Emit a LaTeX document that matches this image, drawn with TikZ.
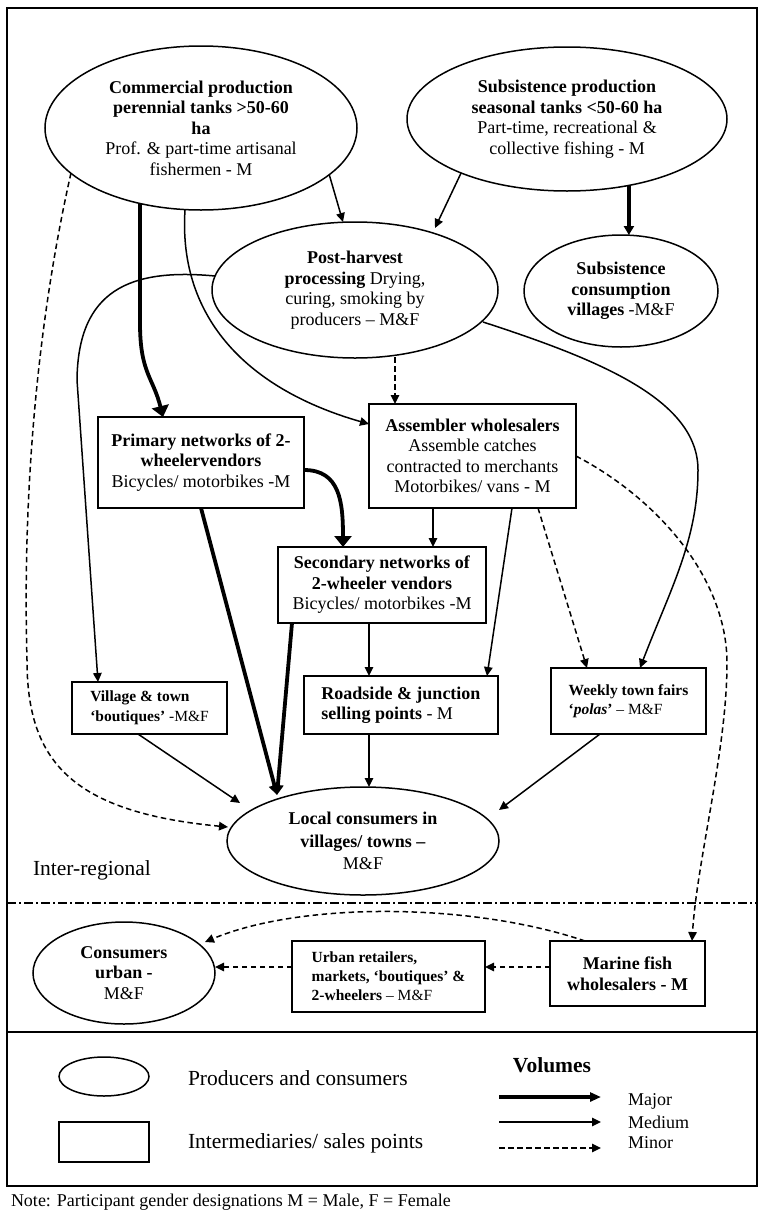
\documentclass[tikz,border=0pt]{standalone}
\usepackage{fontspec}
\setmainfont{Liberation Serif}
\usetikzlibrary{shapes.geometric,arrows.meta,calc}
\newcommand\fntA{\fontsize{18}{20.5}\selectfont}
\newcommand\fntB{\fontsize{15.5}{19.5}\selectfont}
\newcommand\fntL{\fontsize{21.5}{24}\selectfont}
\begin{document}
\begin{tikzpicture}[x=1pt,y=-1pt,
  every node/.style={inner sep=0pt, outer sep=0pt},
  ell/.style={ellipse, draw, line width=1.5pt, align=center, font=\fntA},
  box/.style={rectangle, draw, line width=1.5pt, align=center, font=\fntA},
  smallbox/.style={rectangle, draw, line width=1.5pt, align=left, font=\fntB},
  medium/.style={line width=1.5pt, -{Triangle[length=9pt,width=8.5pt]}},
  minor/.style={line width=1.5pt, dash pattern=on 5.5pt off 3.5pt, -{Triangle[length=9pt,width=8.5pt]}},
  major/.style={line width=3.8pt, -{Triangle[length=10pt,width=11pt]}},
  majorbig/.style={line width=3.8pt, -{Triangle[length=11pt,width=17pt]}},
]
\useasboundingbox (0,0) rectangle (765,1213);
\fill[white] (0,0) rectangle (765,1213);
% frame
\draw[line width=1.8pt] (7,8) rectangle (757,1186);
\draw[line width=1.5pt, dash pattern=on 9pt off 3pt on 2pt off 3pt] (7,903) -- (757,903);
\draw[line width=1.8pt] (7,1032) -- (757,1032);

% nodes
\node[ell, minimum width=312pt, minimum height=164pt] (comm) at (201,128)
 {\textbf{Commercial production}\\\textbf{perennial tanks >50-60}\\\textbf{ha}\\Prof. \& part-time artisanal\\fishermen - M};
\node[ell, minimum width=320pt, minimum height=144pt] (sp) at (567,119)
 {\textbf{Subsistence production}\\\textbf{seasonal tanks <50-60 ha}\\Part-time, recreational \&\\collective fishing - M};
\node[ell, minimum width=286pt, minimum height=136pt] (ph) at (355,290)
 {\textbf{Post-harvest}\\\textbf{processing} Drying,\\curing, smoking by\\producers – M\&F};
\node[ell, minimum width=194pt, minimum height=112pt] (sc) at (621,291)
 {\textbf{Subsistence}\\\textbf{consumption}\\\textbf{villages} -M\&F};
\node[box, minimum width=206pt, minimum height=91pt] (prim) at (201,462.5)
 {\textbf{Primary networks of 2-}\\\textbf{wheelervendors}\\Bicycles/ motorbikes -M};
\node[box, minimum width=207pt, minimum height=104pt] (asm) at (472.5,456)
 {\textbf{Assembler wholesalers}\\Assemble catches\\contracted to merchants\\Motorbikes/ vans - M};
\node[box, minimum width=208pt, minimum height=76pt] (sec) at (382,585)
 {\textbf{Secondary networks of}\\\textbf{2-wheeler vendors}\\Bicycles/ motorbikes -M};
\node[smallbox, minimum width=155pt, minimum height=52pt] (vil) at (149.5,708)
 {\textbf{Village \& town}\\\textbf{‘boutiques’} -M\&F};
\node[box, align=left, minimum width=194pt, minimum height=58pt] (road) at (401,705)
 {\textbf{Roadside \& junction}\\\textbf{selling points} - M};
\node[smallbox, minimum width=155pt, minimum height=66pt] (week) at (628.5,701)
 {\textbf{Weekly town fairs}\\\textbf{‘\textit{polas}’} – M\&F};
\node[ell, font=\fontsize{18}{22.5}\selectfont, minimum width=272pt, minimum height=108pt] (lc) at (363,841)
 {\textbf{Local consumers in}\\\textbf{villages/ towns –}\\M\&F};
\node[ell, minimum width=182pt, minimum height=102pt] (cu) at (124,973)
 {\textbf{Consumers}\\\textbf{urban -}\\M\&F};
\node[smallbox, font=\fontsize{15.5}{19}\selectfont, minimum width=193pt, minimum height=71pt] (ur) at (388.5,976.5)
 {\textbf{Urban retailers,}\\\textbf{markets, ‘boutiques’ \&}\\\textbf{2-wheelers} – M\&F};
\node[box, minimum width=155pt, minimum height=65pt] (mf) at (627.5,973.5)
 {\textbf{Marine fish}\\\textbf{wholesalers - M}};

\node[anchor=west, font=\fntL] (inter) at (33,870) {Inter-regional};

% free intermediate points
\coordinate (fmid) at (77,380);
\coordinate (hmid) at (698,470);
\coordinate (imid) at (727,663);
\coordinate (tmid) at (27,660);

% connectors
\draw[medium] (comm.-20) -- ($(ph)+(-12,-68)$);
\draw[medium] (sp.-153) -- ($(ph)+(80,-62)$);
\draw[line width=3.8pt, -{Triangle[length=9pt,width=10pt]}] (sp.-47.5) -- (sp.-47.5 |- sc.north);
\draw[majorbig] ($(comm)+(-61,75)$) -- ++(0,120) .. controls +(0,50) and +(-10,-40) .. ($(prim)+(-38,-45.5)$);
\draw[medium] ($(comm)+(-16,82)$) .. controls +(-7,110) and +(-119,-34) .. ($(asm)+(-103.5,-32)$);
\draw[medium] ($(ph)+(-140,-14)$) .. controls +(-85,-8) and +(1,-90) .. (fmid) -- ($(vil)+(-51.5,-26)$);
\draw[minor] ($(ph)+(40,67)$) -- ($(asm)+(-77.5,-52)$);
\draw[medium] ($(ph)+(128,32)$) .. controls +(117,38) and +(0,-70) .. (hmid)
   .. controls +(0,70) and +(30,-78) .. ($(week)+(11.5,-33)$);
\draw[minor] (asm.east) .. controls +(84,44) and +(0,-83) .. (imid)
   .. controls +(0,87) and +(5,-81) .. ($(mf)+(64.5,-32.5)$);
\draw[medium] ($(asm.south)+(-39.5,0)$) -- ($(sec.north)+(51,0)$);
\draw[medium] ($(asm.south)+(39.5,0)$) -- ($(road.north)+(86,0)$);
\draw[minor] ($(asm.south)+(65.5,0)$) -- ($(week.north)+(-41.5,0)$);
\draw[majorbig] ($(prim.east)+(0,7.5)$) .. controls +(36,0) and +(0,-45) .. ($(sec.north)+(-39,0)$);
\draw[major] (prim.south) -- ($(lc)+(-86,-46)$);
\draw[major] ($(sec.south)+(-90,0)$) -- ($(lc)+(-86,-46)$);
\draw[medium] ($(sec.south)+(-13,0)$) -- ($(road.north)+(-32,0)$);
\draw[medium] ($(road.south)+(-32,0)$) -- ($(lc)+(6,-54)$);
\draw[medium] ($(vil.south)+(-11.5,0)$) -- ($(lc)+(-123,-38)$);
\draw[medium] ($(week.south)+(-28.5,0)$) -- ($(lc)+(136,-31)$);
\draw[minor] ($(comm)+(-130,45)$) .. controls +(-31,137) and +(-5,-180) .. (tmid)
   .. controls +(0,100) and +(-158,-15) .. ($(lc)+(-135,-14)$);
\draw[minor] ($(mf.west)+(0,-6.5)$) -- ($(ur.east)+(0,-9.5)$);
\draw[minor] ($(ur.west)+(0,-9.5)$) -- ($(cu)+(91,-6)$);
\draw[minor] ($(mf.north)+(-42.5,0)$) .. controls +(-115,-39) and +(95,-40) .. ($(cu)+(81,-31)$);

% legend
\node[ellipse, draw, line width=1.5pt, minimum width=90pt, minimum height=39pt] (le) at (104,1076.5) {};
\node[rectangle, draw, line width=1.5pt, minimum width=90pt, minimum height=40pt] (lr) at (104,1142) {};
\node[anchor=west, font=\fntL] (lt1) at (188,1078) {Producers and consumers};
\node[anchor=west, font=\fntL] (lt2) at (188,1143) {Intermediaries/ sales points};
\node[font=\fntL\bfseries] (vol) at (552,1065) {Volumes};
\coordinate (l1a) at (499,1097); \coordinate (l1b) at (601,1097);
\coordinate (l2a) at (499,1122); \coordinate (l2b) at (601,1122);
\coordinate (l3a) at (499,1148); \coordinate (l3b) at (601,1148);
\draw[line width=3.5pt, -{Triangle[length=11pt,width=9pt]}] (l1a) -- (l1b);
\draw[medium] (l2a) -- (l2b);
\draw[minor] (l3a) -- (l3b);
\node[anchor=west, font=\fntA] (lmaj) at (628,1101) {Major};
\node[anchor=west, font=\fntA] (lmed) at (628,1122) {Medium};
\node[anchor=west, font=\fntA] (lmin) at (628,1143) {Minor};

\node[anchor=west, font=\fntA] (note) at (11,1202) {Note: Participant gender designations M = Male, F = Female};
\end{tikzpicture}
\end{document}
